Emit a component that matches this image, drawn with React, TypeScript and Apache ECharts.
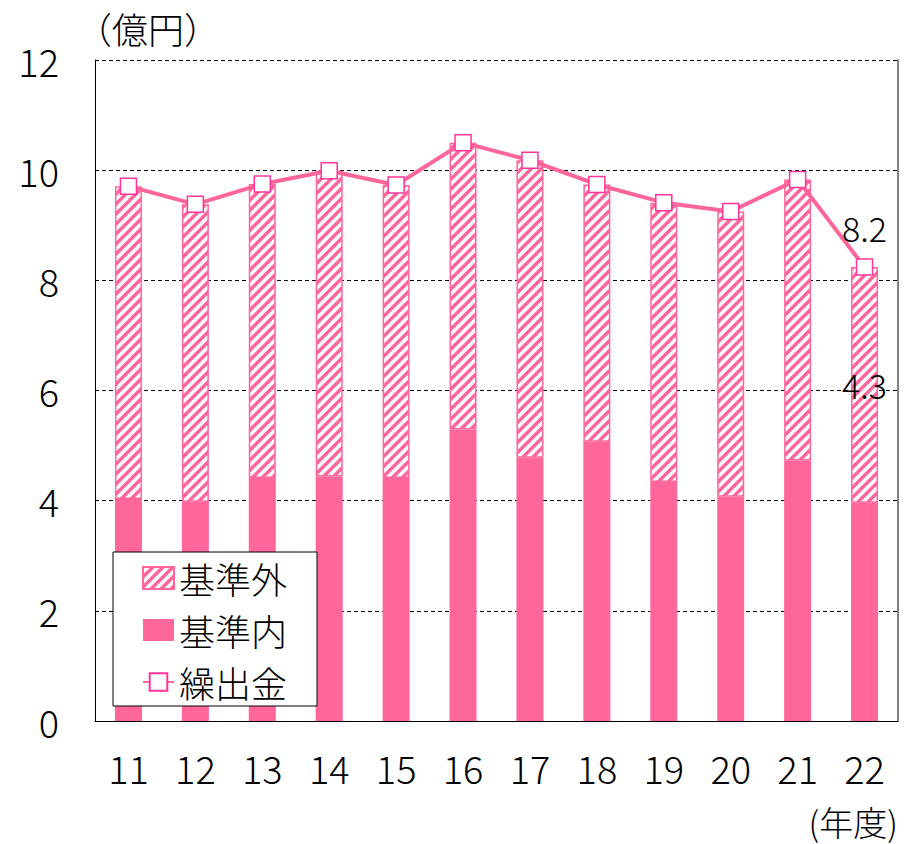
import React, { useEffect, useRef } from "react";
import * as echarts from "echarts";

const categories = ["11", "12", "13", "14", "15", "16", "17", "18", "19", "20", "21", "22"];
const innerValues = [4.03, 3.98, 4.41, 4.44, 4.41, 5.29, 4.78, 5.07, 4.34, 4.07, 4.73, 3.96];
const outerValues = [5.68, 5.40, 5.34, 5.55, 5.32, 5.21, 5.40, 4.67, 5.07, 5.18, 5.10, 4.28];
const totalValues = [9.71, 9.38, 9.75, 9.99, 9.73, 10.50, 10.18, 9.74, 9.41, 9.25, 9.83, 8.24];
const yTicks = [0, 2, 4, 6, 8, 10, 12];
const labelIndex = 11;

const PINK = "#FF6699";
const MARK = "#FF3399";
const FONT = '"Noto Sans CJK JP", "Noto Sans", sans-serif';
const W = 300;

function makeHatch() {
  const s = 10;
  const c = document.createElement("canvas");
  c.width = s;
  c.height = s;
  const ctx = c.getContext("2d")!;
  ctx.fillStyle = "#ffffff";
  ctx.fillRect(0, 0, s, s);
  ctx.strokeStyle = PINK;
  ctx.lineWidth = 3.4;
  ctx.beginPath();
  ctx.moveTo(-2, s + 2);
  ctx.lineTo(s + 2, -2);
  ctx.moveTo(-3, 3);
  ctx.lineTo(3, -3);
  ctx.moveTo(s - 3, s + 3);
  ctx.lineTo(s + 3, s - 3);
  ctx.stroke();
  return { image: c, repeat: "repeat", imageWidth: s, imageHeight: s } as any;
}

export default function App() {
  const ref = useRef<HTMLDivElement>(null);
  useEffect(() => {
    if (!ref.current) return;
    const chart = echarts.init(ref.current, undefined, { renderer: "svg" });
    const hatch = makeHatch();
    const fmt = (p: any) => Number(p.value).toFixed(1);
    chart.setOption({
      animation: false,
      backgroundColor: "#ffffff",
      textStyle: { fontFamily: FONT, fontWeight: W },
      grid: { left: 95, right: 6, top: 60, bottom: 123 },
      legend: {
        data: [
          { name: "基準外", icon: "rect" },
          { name: "基準内", icon: "rect" },
          { name: "繰出金" },
        ],
        orient: "vertical",
        left: 113,
        top: 552,
        padding: [6, 30, 4, 29],
        itemWidth: 31,
        itemHeight: 22,
        itemGap: 12,
        backgroundColor: "#ffffff",
        borderColor: "#000000",
        borderWidth: 1,
        textStyle: { fontSize: 36, lineHeight: 40, color: "#000", fontFamily: FONT, fontWeight: W },
      },
      xAxis: {
        type: "category",
        data: categories,
        axisTick: { show: false },
        axisLine: { lineStyle: { color: "#000", width: 1 } },
        axisLabel: { fontSize: 38, color: "#000", margin: 27, fontFamily: FONT, fontWeight: W },
      },
      yAxis: [
        {
          type: "value",
          min: yTicks[0],
          max: yTicks[yTicks.length - 1],
          interval: 2,
          axisLine: { show: true, lineStyle: { color: "#000", width: 1 } },
          axisTick: { show: false },
          axisLabel: { fontSize: 38, color: "#000", margin: 36, fontFamily: FONT, fontWeight: W },
          splitLine: { lineStyle: { color: "#000", type: [4, 3], width: 1 } },
        },
        {
          type: "value",
          position: "right",
          min: yTicks[0],
          max: yTicks[yTicks.length - 1],
          interval: 2,
          axisLine: { show: true, lineStyle: { color: "#595959", width: 1.5 } },
          axisTick: { show: false },
          axisLabel: { show: false },
          splitLine: { show: false },
        },
      ],
      series: [
        {
          name: "基準内",
          type: "bar",
          stack: "total",
          barWidth: 27,
          data: innerValues,
          itemStyle: { color: PINK },
        },
        {
          name: "基準外",
          type: "bar",
          stack: "total",
          barWidth: 27,
          data: outerValues.map((v, i) =>
            i === labelIndex
              ? {
                  value: v,
                  label: {
                    show: true,
                    position: "inside",
                    formatter: fmt,
                    fontSize: 34,
                    color: "#000",
                    fontFamily: FONT,
                    fontWeight: W,
                  },
                }
              : v
          ),
          itemStyle: { color: hatch, borderColor: PINK, borderWidth: 1.5 },
        },
        {
          name: "繰出金",
          type: "line",
          data: totalValues.map((v, i) =>
            i === labelIndex
              ? {
                  value: v,
                  label: {
                    show: true,
                    position: "top",
                    distance: 14,
                    formatter: fmt,
                    fontSize: 34,
                    color: "#000",
                    fontFamily: FONT,
                    fontWeight: W,
                  },
                }
              : v
          ),
          symbol: "rect",
          symbolSize: 16,
          z: 5,
          lineStyle: { color: PINK, width: 4 },
          itemStyle: { color: "#ffffff", borderColor: MARK, borderWidth: 1.5 },
        },
      ],
      graphic: [
        {
          type: "text",
          left: 76,
          top: 10,
          style: { text: "（億円）", fill: "#000", font: `${W} 36px ${FONT}` },
        },
        {
          type: "text",
          right: 6,
          top: 804,
          style: { text: "(年度)", fill: "#000", font: `${W} 34px ${FONT}`, lineHeight: 34 },
        },
      ],
    });
    return () => chart.dispose();
  }, []);
  return (
    <div
      ref={ref}
      style={{ position: "fixed", left: 0, top: 0, width: 904, height: 844 }}
    />
  );
}
